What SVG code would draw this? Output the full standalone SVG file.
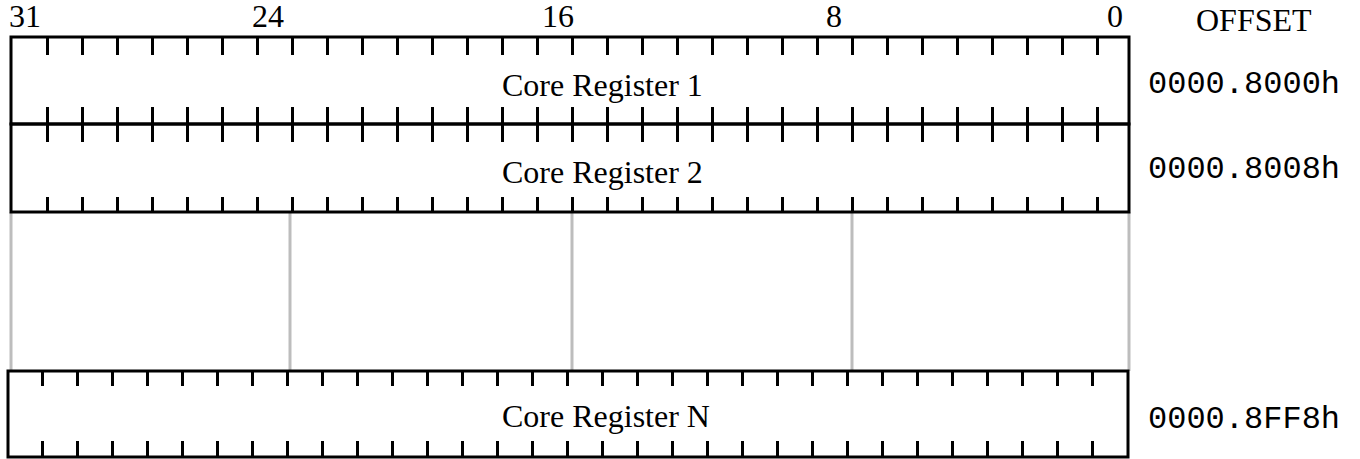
<svg xmlns="http://www.w3.org/2000/svg" width="1360" height="459" viewBox="0 0 1360 459">
<defs>
<style>
.frame{fill:none;stroke:#000;stroke-width:3}
.tick{fill:none;stroke:#000;stroke-width:3}
.sep{stroke:#bdbdbd;stroke-width:3}
.lbl{font-family:"Liberation Serif","Times New Roman",serif;font-size:32px;fill:#000}
.off{font-family:"Liberation Mono","Courier New",monospace;font-size:32px;fill:#000}
</style>
</defs>
<rect width="1360" height="459" fill="#fff"/>
<g id="bit-labels" class="lbl">
<text x="9" y="27">31</text>
<text x="252" y="27">24</text>
<text x="542" y="27">16</text>
<text x="826" y="27">8</text>
<text x="1107" y="27">0</text>
<text x="1196" y="31">OFFSET</text>
</g>
<g id="connectors">
<line class="sep" x1="11" y1="212" x2="11" y2="371"/>
<line class="sep" x1="290" y1="212" x2="290" y2="371"/>
<line class="sep" x1="572" y1="212" x2="572" y2="371"/>
<line class="sep" x1="852" y1="212" x2="852" y2="371"/>
<line class="sep" x1="1129" y1="212" x2="1129" y2="371"/>
</g>
<g id="reg1">
<rect class="frame" x="11" y="37" width="1118" height="87"/>
<path class="tick" d="M47.5 37v18m35 -18v18m35 -18v18m35 -18v18m35 -18v18m35 -18v18m35 -18v18m35 -18v18m35 -18v18m35 -18v18m35 -18v18m35 -18v18m35 -18v18m35 -18v18m35 -18v18m35 -18v18m35 -18v18m35 -18v18m35 -18v18m35 -18v18m35 -18v18m35 -18v18m35 -18v18m35 -18v18m35 -18v18m35 -18v18m35 -18v18m35 -18v18m35 -18v18m35 -18v18m35 -18v18"/>
<path class="tick" d="M47.5 107v17m35 -17v17m35 -17v17m35 -17v17m35 -17v17m35 -17v17m35 -17v17m35 -17v17m35 -17v17m35 -17v17m35 -17v17m35 -17v17m35 -17v17m35 -17v17m35 -17v17m35 -17v17m35 -17v17m35 -17v17m35 -17v17m35 -17v17m35 -17v17m35 -17v17m35 -17v17m35 -17v17m35 -17v17m35 -17v17m35 -17v17m35 -17v17m35 -17v17m35 -17v17m35 -17v17"/>
<text class="lbl" x="502" y="96">Core Register 1</text>
<text class="off" x="1148" y="93">0000.8000h</text>
</g>
<g id="reg2">
<rect class="frame" x="11" y="124" width="1118" height="88"/>
<path class="tick" d="M47.5 124v18m35 -18v18m35 -18v18m35 -18v18m35 -18v18m35 -18v18m35 -18v18m35 -18v18m35 -18v18m35 -18v18m35 -18v18m35 -18v18m35 -18v18m35 -18v18m35 -18v18m35 -18v18m35 -18v18m35 -18v18m35 -18v18m35 -18v18m35 -18v18m35 -18v18m35 -18v18m35 -18v18m35 -18v18m35 -18v18m35 -18v18m35 -18v18m35 -18v18m35 -18v18m35 -18v18"/>
<path class="tick" d="M47.5 197v15m35 -15v15m35 -15v15m35 -15v15m35 -15v15m35 -15v15m35 -15v15m35 -15v15m35 -15v15m35 -15v15m35 -15v15m35 -15v15m35 -15v15m35 -15v15m35 -15v15m35 -15v15m35 -15v15m35 -15v15m35 -15v15m35 -15v15m35 -15v15m35 -15v15m35 -15v15m35 -15v15m35 -15v15m35 -15v15m35 -15v15m35 -15v15m35 -15v15m35 -15v15m35 -15v15"/>
<text class="lbl" x="502" y="183">Core Register 2</text>
<text class="off" x="1148" y="178">0000.8008h</text>
</g>
<g id="regN">
<rect class="frame" x="8" y="371" width="1120" height="86"/>
<path class="tick" d="M42.5 371v15m35 -15v15m35 -15v15m35 -15v15m35 -15v15m35 -15v15m35 -15v15m35 -15v15m35 -15v15m35 -15v15m35 -15v15m35 -15v15m35 -15v15m35 -15v15m35 -15v15m35 -15v15m35 -15v15m35 -15v15m35 -15v15m35 -15v15m35 -15v15m35 -15v15m35 -15v15m35 -15v15m35 -15v15m35 -15v15m35 -15v15m35 -15v15m35 -15v15m35 -15v15m35 -15v15"/>
<path class="tick" d="M42.5 441v16m35 -16v16m35 -16v16m35 -16v16m35 -16v16m35 -16v16m35 -16v16m35 -16v16m35 -16v16m35 -16v16m35 -16v16m35 -16v16m35 -16v16m35 -16v16m35 -16v16m35 -16v16m35 -16v16m35 -16v16m35 -16v16m35 -16v16m35 -16v16m35 -16v16m35 -16v16m35 -16v16m35 -16v16m35 -16v16m35 -16v16m35 -16v16m35 -16v16m35 -16v16m35 -16v16"/>
<text class="lbl" x="502" y="427">Core Register N</text>
<text class="off" x="1148" y="428">0000.8FF8h</text>
</g>
</svg>
